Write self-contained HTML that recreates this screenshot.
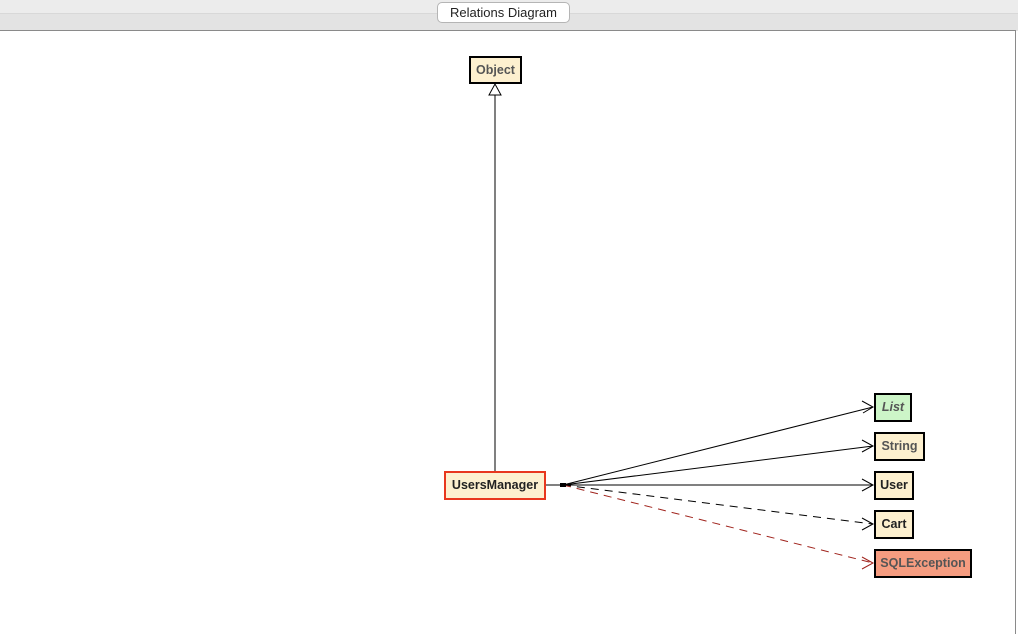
<!DOCTYPE html>
<html><head><style>
body{margin:0;width:1018px;height:633px;overflow:hidden;background:#fff;font-family:"Liberation Sans",sans-serif;position:relative}
.top{position:absolute;left:0;top:0;width:1018px;height:13px;background:#ececec}
.bar{position:absolute;left:0;top:13px;width:1018px;height:17px;background:#e3e3e3;border-top:1px solid #d8d8d8}
.canvas{position:absolute;left:0;top:30px;width:1015px;height:603px;background:#fff;border-top:1px solid #8a8a8a;border-right:1px solid #8a8a8a}
.tab{position:absolute;left:437px;top:2px;width:131px;height:19px;background:#fff;border:1px solid #b5b5b5;border-radius:5px;font-size:13px;text-align:center;line-height:19px;color:#222}
.n{position:absolute;box-sizing:border-box;border:2px solid #000;background:#fdf0cf;font-size:12.5px;font-weight:bold;text-align:center;line-height:25px;color:#222}
</style></head><body>
<div class="top"></div><div class="bar"></div><div class="canvas"></div>
<div class="tab">Relations Diagram</div>
<svg width="1018" height="633" style="position:absolute;left:0;top:0">
<g stroke="#000" fill="none" stroke-width="1">
<line x1="495" y1="471" x2="495" y2="95"/>
<polygon points="489,95 501,95 495,84" fill="#fff"/>
<line x1="545" y1="485" x2="563" y2="485"/>
<line x1="563" y1="485" x2="873" y2="407"/>
<line x1="563" y1="485" x2="873" y2="446"/>
<line x1="563" y1="485" x2="873" y2="485"/>
<line x1="563" y1="485" x2="873" y2="524" stroke-dasharray="8,6"/>
<line x1="563" y1="485" x2="873" y2="563" stroke="#a0231c" stroke-dasharray="8,6"/>
<polyline points="862,401 873,407 863,413"/>
<polyline points="862,440 873,446 862,452"/>
<polyline points="862,479 873,485 862,491"/>
<polyline points="862,518 873,524 862,530"/>
<polyline points="862,557 873,563 862,569" stroke="#a0231c"/>
</g>
<rect x="560" y="483" width="6" height="4" fill="#000"/>
</svg>
<div class="n" style="left:469px;top:56px;width:53px;height:28px;color:#555">Object</div>
<div class="n" style="left:444px;top:471px;width:102px;height:29px;border-color:#e8371e">UsersManager</div>
<div class="n" style="left:874px;top:393px;width:38px;height:29px;background:#cdf5c8;color:#555;font-style:italic">List</div>
<div class="n" style="left:874px;top:432px;width:51px;height:29px;color:#555">String</div>
<div class="n" style="left:874px;top:471px;width:40px;height:29px">User</div>
<div class="n" style="left:874px;top:510px;width:40px;height:29px">Cart</div>
<div class="n" style="left:874px;top:549px;width:98px;height:29px;background:#f59c80;color:#555">SQLException</div>
</body></html>
